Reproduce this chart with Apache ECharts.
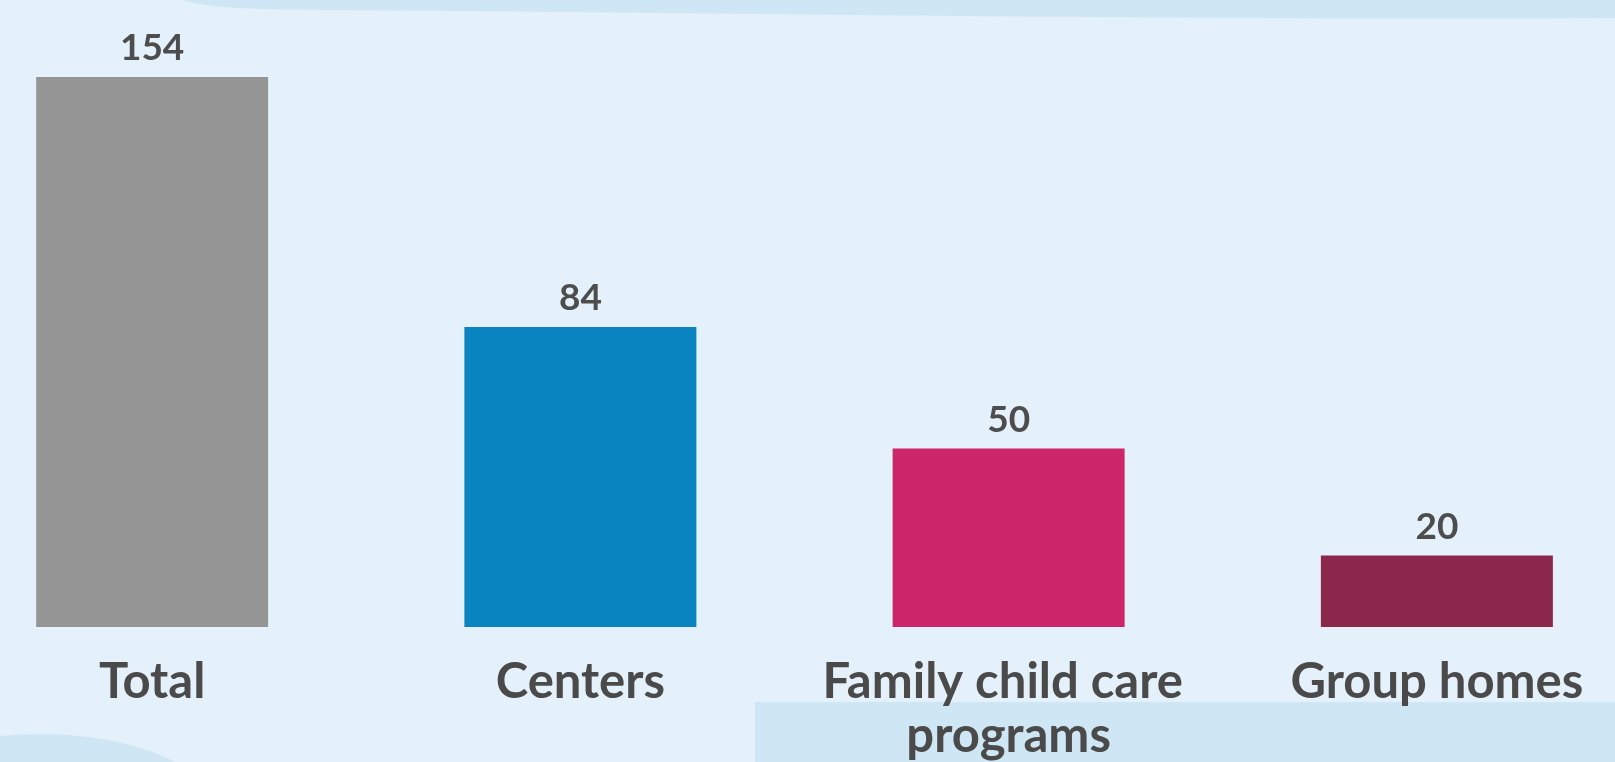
<!DOCTYPE html>
<html>
<head>
<meta charset="utf-8">
<script src="https://cdn.jsdelivr.net/npm/echarts@6/dist/echarts.min.js"></script>
<style>
  html, body { margin: 0; padding: 0; }
  #chart { width: 1615px; height: 762px; }
</style>
</head>
<body>
<div id="chart"></div>
<script>
const categories = ['Total', 'Centers', 'Family child care programs', 'Group homes']
const counts = [154, 84, 50, 20]
const barColors = ['#959595', '#0a84c0', '#cd2569', '#8d264b']

const chart = echarts.init(document.getElementById('chart'))

const option = {
  backgroundColor: '#e4f1fa',
  animation: false,
  graphic: [
    {
      type: 'polygon',
      z: -10,
      shape: {
        points: [[185, 0], [200, 4], [225, 7], [260, 9], [320, 10], [1615, 18], [1615, 0]],
        smooth: 0.3
      },
      style: { fill: '#cfe6f4' }
    },
    {
      type: 'ellipse',
      z: -10,
      shape: { cx: 40, cy: 822, rx: 185, ry: 88 },
      style: { fill: '#cfe6f4' }
    },
    {
      type: 'rect',
      z: -10,
      shape: { x: 755, y: 702, width: 860, height: 60 },
      style: { fill: '#cfe6f4' }
    }
  ],
  grid: {
    left: -62,
    right: -36,
    top: 77,
    bottom: 135,
    containLabel: false,
    outerBoundsMode: 'none'
  },
  xAxis: {
    type: 'category',
    data: categories,
    axisLine: { show: false },
    axisTick: { show: false },
    axisLabel: {
      interval: 0,
      margin: 28,
      fontFamily: 'Lato',
      fontWeight: 'bold',
      fontSize: 49,
      lineHeight: 54,
      color: '#4a4a4a',
      width: 410,
      overflow: 'break'
    }
  },
  yAxis: {
    type: 'value',
    min: 0,
    max: 154,
    show: false,
    splitLine: { show: false }
  },
  series: [
    {
      type: 'bar',
      barWidth: 232,
      data: counts.map((v, i) => ({ value: v, itemStyle: { color: barColors[i] } })),
      label: {
        show: true,
        position: 'top',
        distance: 10,
        fontFamily: 'Lato',
        fontWeight: 'bold',
        fontSize: 37,
        color: '#4d4d4d'
      }
    }
  ]
}

chart.setOption(option)
</script>
</body>
</html>
